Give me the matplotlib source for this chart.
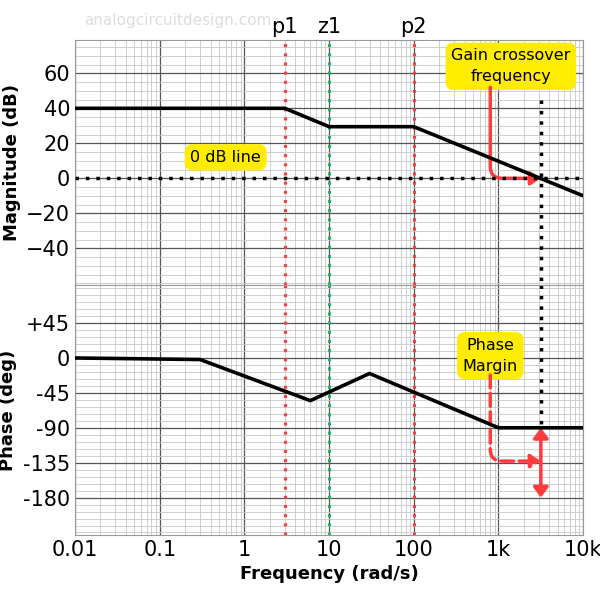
import numpy as np
import matplotlib
matplotlib.use("Agg")
import matplotlib.pyplot as plt
from matplotlib.ticker import FixedLocator, NullFormatter

# asymptotic Bode data
mag_w = [0.01, 3, 10, 100, 10000]
mag_db = [40, 40, 29.5, 29.5, -10]
ph_w = [0.01, 0.3, 6, 30, 1000, 10000]
ph_deg = [0, -2, -55, -20, -90, -90]
poles = [3, 100]
zeros = [10]
w_gc = 3162
x_ticks = [0.01, 0.1, 1, 10, 100, 1000, 10000]
x_labels = ["0.01", "0.1", "1", "10", "100", "1k", "10k"]
mag_ticks = [60, 40, 20, 0, -20, -40]
ph_ticks = [45, 0, -45, -90, -135, -180]
ph_labels = ["+45", "0", "-45", "-90", "-135", "-180"]

RED = "#ff3b3b"
GREEN = "#22b35e"
YEL = "#ffec00"

fig = plt.figure(figsize=(6, 5.89), dpi=100)
ax1 = fig.add_axes([0.125, 0.516, 0.847, 0.416])
ax2 = fig.add_axes([0.125, 0.092, 0.847, 0.424])

for ax in (ax1, ax2):
    ax.set_xscale("log")
    ax.set_xlim(0.01, 10000)
    ax.xaxis.set_major_locator(FixedLocator(x_ticks))
    ax.grid(which="major", color="#555555", lw=0.9)
    ax.grid(which="minor", color="#c8c8c8", lw=0.6)
    ax.tick_params(which="both", length=0, labelsize=15)
    for s in ax.spines.values():
        s.set_color("#999999")
    ax.set_axisbelow(True)
    for p in poles:
        ax.axvline(p, color=RED, ls=(0, (1, 2)), lw=2.2)
    for z in zeros:
        ax.axvline(z, color=GREEN, ls=(0, (1, 2)), lw=2.2)

ax1.set_ylim(-61, 79)
ax1.set_yticks(mag_ticks)
ax1.set_yticks(np.arange(-60, 80, 5), minor=True)
ax1.xaxis.set_major_formatter(NullFormatter())
ax1.plot(mag_w, mag_db, color="black", lw=2.6, zorder=5)
ax1.axhline(0, color="black", ls=(0, (1, 2)), lw=2.5, zorder=4)
ax1.plot([w_gc, w_gc], [45, -61], color="black", ls=(0, (1, 2)), lw=2.5, clip_on=False)
ax1.set_ylabel("Magnitude (dB)", fontsize=13, fontweight="bold")

ax2.set_ylim(-228, 94)
ax2.set_yticks(ph_ticks)
ax2.set_yticklabels(ph_labels)
ax2.set_yticks(np.arange(-225, 94, 9), minor=True)
ax2.set_xticklabels(x_labels)
ax2.plot(ph_w, ph_deg, color="black", lw=2.6, zorder=5)
ax2.plot([w_gc, w_gc], [94, -88], color="black", ls=(0, (1, 2)), lw=2.5, clip_on=False)
ax2.set_ylabel("Phase (deg)", fontsize=13, fontweight="bold")
ax2.set_xlabel("Frequency (rad/s)", fontsize=13, fontweight="bold")

box = dict(boxstyle="round,pad=0.35,rounding_size=0.5", fc=YEL, ec="none")
ax1.text(0.6, 12, "0 dB line", fontsize=11.5, ha="center", va="center", bbox=box)
ax1.text(1400, 64, "Gain crossover\nfrequency", fontsize=11.5, ha="center", va="center",
         bbox=box, linespacing=1.5)
ax1.annotate("", xy=(w_gc, 0), xytext=(800, 52),
             arrowprops=dict(arrowstyle="-|>,head_width=0.4,head_length=0.6", color=RED, lw=2.5,
                             shrinkA=0, shrinkB=0,
                             connectionstyle="angle,angleA=90,angleB=0,rad=12"))
ax2.text(800, 3, "Phase\nMargin", fontsize=11.5, ha="center", va="center",
         bbox=box, linespacing=1.5)
ax2.annotate("", xy=(w_gc, -133), xytext=(800, -22),
             arrowprops=dict(arrowstyle="-|>,head_width=0.4,head_length=0.6", color=RED, lw=2.5,
                             ls="--", shrinkA=0, shrinkB=0,
                             connectionstyle="angle,angleA=90,angleB=0,rad=12"))
ax2.annotate("", xy=(w_gc, -90), xytext=(w_gc, -180),
             arrowprops=dict(arrowstyle="<|-|>,head_width=0.45,head_length=0.6", color=RED, lw=2.5,
                             shrinkA=0, shrinkB=0))

for p, name in zip(poles + zeros, ["p1", "p2", "z1"]):
    ax1.text(p, 81, name, fontsize=15, ha="center", va="bottom")

fig.text(0.14, 0.965, "analogcircuitdesign.com", fontsize=11, color="#dddddd", va="center")

fig.savefig("out.png", dpi=100)
